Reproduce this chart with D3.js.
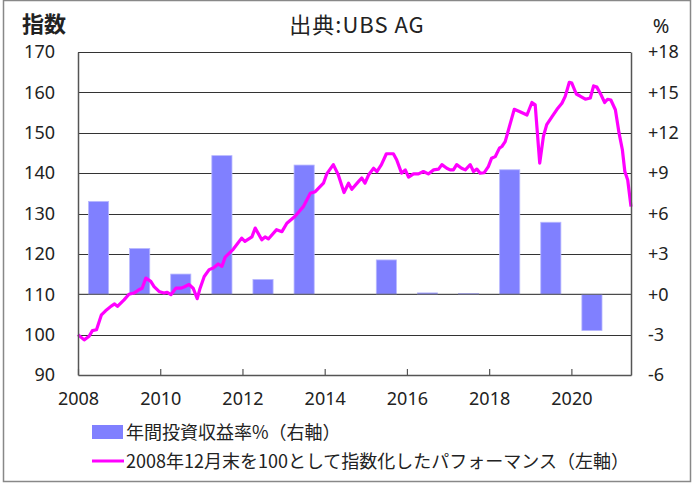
<!DOCTYPE html>
<html>
<head>
<meta charset="utf-8">
<script src="https://cdn.jsdelivr.net/npm/d3@7"></script>
<style>
  html, body { margin: 0; padding: 0; background: #fff; }
  svg { display: block; }
  text { font-family: "Noto Sans CJK JP", "Noto Sans", sans-serif; fill: #222; }
  .num text, text.num { font-family: "Noto Sans", "Noto Sans CJK JP", sans-serif; }
</style>
</head>
<body>
<svg id="chart"></svg>
<script>
// annual return (% , right axis), bar centred on mid-year
const barYears = [2008, 2009, 2010, 2011, 2012, 2013, 2014, 2015, 2016, 2017, 2018, 2019, 2020];
const barReturns = [6.9, 3.4, 1.5, 10.3, 1.1, 9.6, 0, 2.55, 0.1, 0.05, 9.25, 5.35, -2.7];

// index performance (left axis), Dec 2008 = 100
const perfTimes = [
  2008.0, 2008.15, 2008.27, 2008.35, 2008.45, 2008.57, 2008.67, 2008.8, 2008.89, 2008.96,
  2009.12, 2009.24, 2009.36, 2009.48, 2009.56, 2009.65, 2009.77, 2009.85, 2009.97,
  2010.09, 2010.17, 2010.26, 2010.38, 2010.5, 2010.58, 2010.7, 2010.8, 2010.9, 2010.97,
  2011.07, 2011.19, 2011.29, 2011.41, 2011.5, 2011.58, 2011.78, 2011.98,
  2012.06, 2012.23, 2012.31, 2012.47, 2012.55, 2012.63, 2012.83, 2012.96,
  2013.08, 2013.28, 2013.48, 2013.65, 2013.77, 2013.97,
  2014.05, 2014.21, 2014.33, 2014.47, 2014.58, 2014.66, 2014.82, 2014.9, 2014.98,
  2015.07, 2015.19, 2015.27, 2015.38, 2015.5, 2015.67, 2015.75, 2015.87, 2015.96,
  2016.04, 2016.16, 2016.28, 2016.4, 2016.52, 2016.65, 2016.77, 2016.85, 2016.97,
  2017.05, 2017.13, 2017.21, 2017.33, 2017.42, 2017.54, 2017.62, 2017.7, 2017.78, 2017.88, 2017.98,
  2018.06, 2018.15, 2018.25, 2018.31, 2018.39, 2018.47, 2018.61, 2018.75, 2018.92,
  2019.04, 2019.12, 2019.23, 2019.32, 2019.4, 2019.53, 2019.65, 2019.77, 2019.85, 2019.95,
  2020.01, 2020.12, 2020.21, 2020.34, 2020.46, 2020.54, 2020.62, 2020.72, 2020.81, 2020.88, 2020.96,
  2021.07, 2021.16, 2021.24, 2021.3, 2021.37, 2021.45
];
const perfValues = [
  100.0, 98.7, 99.6, 101.0, 101.2, 104.9, 105.9, 107.0, 107.6, 107.0,
  108.6, 110.0, 110.3, 111.1, 111.5, 114.0, 113.2, 111.9, 110.7,
  110.3, 110.5, 109.9, 111.5, 111.5, 111.8, 112.4, 111.5, 108.9, 111.5,
  114.4, 116.1, 116.5, 117.5, 116.9, 119.2, 121.2, 123.9,
  123.1, 124.2, 126.4, 123.5, 124.2, 123.7, 126.0, 125.5,
  127.6, 129.3, 131.7, 135.0, 135.4, 137.5,
  139.8, 142.1, 139.6, 135.2, 137.5, 136.0, 137.9, 138.8, 137.5,
  139.6, 141.2, 140.4, 142.1, 144.8, 144.8, 143.3, 140.0, 140.8,
  139.0, 139.8, 139.8, 140.4, 139.8, 140.8, 141.0, 142.1, 141.2,
  140.8, 140.8, 142.1, 141.2, 140.8, 142.1, 140.4, 141.0, 140.0, 140.1, 141.6,
  143.7, 144.1, 146.2, 146.6, 147.8, 150.7, 155.8, 155.2, 154.4,
  157.5, 156.9, 142.5, 149.1, 152.0, 154.0, 155.8, 157.3, 159.0, 162.5,
  162.3, 159.6, 159.1, 158.3, 158.6, 161.6, 161.3, 159.4, 157.5, 158.3, 158.1,
  155.7, 149.9, 145.8, 140.4, 138.3, 131.7
];

const leftTicks = [90, 100, 110, 120, 130, 140, 150, 160, 170];
const rightTicks = [-6, -3, 0, 3, 6, 9, 12, 15, 18];
const yearTicks = [2008, 2010, 2012, 2014, 2016, 2018, 2020];

const width = 694, height = 483;
const margin = {top: 52, right: 63, bottom: 108, left: 78};
const innerW = width - margin.left - margin.right;
const innerH = height - margin.top - margin.bottom;

const svg = d3.select("#chart").attr("width", width).attr("height", height);

// outer frame
svg.append("rect")
  .attr("x", 3.5).attr("y", 0.5)
  .attr("width", 687).attr("height", 481)
  .attr("fill", "none").attr("stroke", "#888").attr("stroke-width", 1.5);

const x = d3.scaleLinear().domain([2008, 2021.45]).range([0, innerW]);
const yL = d3.scaleLinear().domain([90, 170]).range([innerH, 0]);
const yR = d3.scaleLinear().domain([-6, 18]).range([innerH, 0]);

const g = svg.append("g").attr("transform", `translate(${margin.left},${margin.top})`);

// gridlines
g.append("g")
  .selectAll("line")
  .data(leftTicks.slice(1))
  .enter().append("line")
  .attr("x1", 0).attr("x2", innerW)
  .attr("y1", d => Math.round(yL(d)) + 0.5).attr("y2", d => Math.round(yL(d)) + 0.5)
  .attr("stroke", "#333").attr("stroke-width", 1.2);

// bars
const barW = x(2008.49) - x(2008);
g.append("g")
  .selectAll("rect")
  .data(barYears.map((yr, i) => ({yr, v: barReturns[i]})))
  .enter().append("rect")
  .attr("x", d => x(d.yr + 0.5) - barW / 2)
  .attr("y", d => yR(Math.max(0, d.v)))
  .attr("width", barW)
  .attr("height", d => Math.abs(yR(d.v) - yR(0)))
  .attr("fill", "#8080ff")
  .attr("stroke", "#b8b8ff").attr("stroke-width", 0.8);

// re-draw the zero line over the bars
g.append("line")
  .attr("x1", 0).attr("x2", innerW)
  .attr("y1", yR(0)).attr("y2", yR(0))
  .attr("stroke", "#555").attr("stroke-width", 1.2);

// performance line
const line = d3.line()
  .x((d, i) => x(perfTimes[i]))
  .y(d => yL(d));
g.append("path")
  .datum(perfValues)
  .attr("d", line)
  .attr("fill", "none")
  .attr("stroke", "#ff00ff")
  .attr("stroke-width", 3.2)
  .attr("stroke-linejoin", "round");

// axes
const leftAxis = g.append("g").attr("class", "num")
  .call(d3.axisLeft(yL).tickValues(leftTicks).tickSize(0).tickPadding(23));
leftAxis.select(".domain").attr("stroke", "#555").attr("stroke-width", 1.5);
leftAxis.selectAll("text").style("font-size", "18px").attr("fill", "#222");

const rightAxis = g.append("g").attr("class", "num")
  .attr("transform", `translate(${innerW},0)`)
  .call(d3.axisRight(yR).tickValues(rightTicks).tickSize(0).tickPadding(17)
    .tickFormat(d => (d >= 0 ? "+" : "") + d));
rightAxis.select(".domain").attr("stroke", "#555").attr("stroke-width", 1.5);
rightAxis.selectAll("text").style("font-size", "18px").attr("fill", "#222");

const bottomAxis = g.append("g").attr("class", "num")
  .attr("transform", `translate(0,${innerH})`)
  .call(d3.axisBottom(x).tickValues(yearTicks).tickFormat(d3.format("d")).tickSizeInner(-6).tickSizeOuter(0).tickPadding(17));
bottomAxis.select(".domain").attr("stroke", "#555").attr("stroke-width", 1.5);
bottomAxis.selectAll(".tick line").attr("stroke", "#555").attr("stroke-width", 1.2);
bottomAxis.selectAll("text").style("font-size", "18px").attr("fill", "#222");

// titles
svg.append("text").attr("x", 22).attr("y", 32)
  .style("font-size", "22px").style("font-weight", "bold").text("指数");
svg.append("text").attr("x", 357).attr("y", 33).attr("text-anchor", "middle")
  .style("font-size", "22px").style("letter-spacing", "1px").text("出典:UBS AG");
svg.append("text").attr("class", "num").attr("x", 661).attr("y", 33).attr("text-anchor", "middle")
  .style("font-size", "20px").text("%");

// legend
const legend = svg.append("g");
legend.append("rect").attr("x", 92).attr("y", 425).attr("width", 31).attr("height", 14).attr("fill", "#8080ff");
legend.append("text").attr("x", 126).attr("y", 439).style("font-size", "18px").text("年間投資収益率%（右軸）");
legend.append("line").attr("x1", 92).attr("x2", 124).attr("y1", 461).attr("y2", 461)
  .attr("stroke", "#ff00ff").attr("stroke-width", 3);
legend.append("text").attr("x", 126).attr("y", 468).style("font-size", "18px").text("2008年12月末を100として指数化したパフォーマンス（左軸）");
</script>
</body>
</html>
